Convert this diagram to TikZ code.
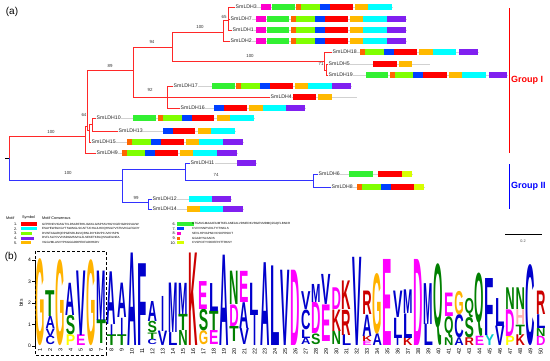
\documentclass[tikz,border=0pt]{standalone}
\usepackage{fontspec}
\setmainfont{Liberation Sans}
\usepackage{graphicx}
\definecolor{treered}{RGB}{255,40,40}
\definecolor{treeblue}{RGB}{50,50,255}
\definecolor{m1}{RGB}{255,0,0}
\definecolor{m2}{RGB}{0,255,255}
\definecolor{m3}{RGB}{128,255,0}
\definecolor{m4}{RGB}{128,32,240}
\definecolor{m5}{RGB}{255,185,0}
\definecolor{m6}{RGB}{50,240,50}
\definecolor{m7}{RGB}{0,64,255}
\definecolor{m8}{RGB}{255,0,204}
\definecolor{m9}{RGB}{255,102,0}
\definecolor{m10}{RGB}{215,255,0}
% logo letter colours
\definecolor{lcA}{RGB}{0,0,204}\colorlet{lcC}{lcA}\colorlet{lcF}{lcA}\colorlet{lcI}{lcA}
\colorlet{lcL}{lcA}\colorlet{lcV}{lcA}\colorlet{lcW}{lcA}\colorlet{lcM}{lcA}
\definecolor{lcN}{RGB}{0,128,0}\colorlet{lcQ}{lcN}\colorlet{lcS}{lcN}\colorlet{lcT}{lcN}
\definecolor{lcD}{RGB}{255,0,255}\colorlet{lcE}{lcD}
\definecolor{lcK}{RGB}{204,0,0}\colorlet{lcR}{lcK}
\definecolor{lcH}{RGB}{255,178,178}
\definecolor{lcG}{RGB}{255,179,0}
\definecolor{lcP}{RGB}{255,255,0}
\definecolor{lcY}{RGB}{0,204,204}
\def\lwI{3}
\newcommand\LogoLetter[4]{%
  \pgfmathsetmacro\lx{40+(#1-1)*10.22}%
  \pgfmathsetmacro\ly{346-#2*21.5}%
  \pgfmathsetmacro\lh{(#3-#2)*21.5}%
  \ifcsname lw#4\endcsname\edef\lw{\csname lw#4\endcsname}\else\def\lw{9.4}\fi
  \node[inner sep=0pt, anchor=south, text=lc#4] at (\lx,\ly) {\resizebox*{\lw pt}{\lh pt}{\bfseries #4}};%
}
\newcommand\Gene[6]{%
  \node[gene] (#1) at (#3,#4) {#2};
  \draw[prot] (#1.east) -- (#5,#4);
  \foreach \a/\b/\c in {#6} {\fill[\c] (\a,#4-2.6) rectangle (\b,#4+2.6);}
}
\begin{document}
\begin{tikzpicture}[x=1pt,y=-1pt,
  rl/.style={draw=treered, line width=0.8pt},
  bl/.style={draw=treeblue, line width=0.8pt},
  gene/.style={font=\fontsize{5.2}{6}\selectfont, text=black!85, inner sep=0.5pt, anchor=west},
  bs/.style={font=\fontsize{4.4}{5}\selectfont, text=black!80, inner sep=0.3pt},
  prot/.style={draw=black!18, line width=1pt},
  lg/.style={font=\fontsize{3.8}{4}\selectfont, inner sep=0pt},
  lgs/.style={font=\fontsize{3}{3.5}\selectfont, inner sep=0pt, anchor=west},
  grp/.style={font=\bfseries\fontsize{9}{10}\selectfont, inner sep=0pt, anchor=west},
  panel/.style={font=\fontsize{10}{12}\selectfont, inner sep=0pt}]
\useasboundingbox[fill=white] (0,0) rectangle (550,360);

\node[panel] (pa) at (12,12) {(a)};
\node[panel] (pb) at (11,257) {(b)};

% ---------------- genes ----------------
\Gene{SmLDH3}{SmLDH3}{235}{7}{393}{261/271/m8,272/295/m6,296/301/m9,301/320/m3,320/330/m7,330/353/m1,355/368/m5,368/392/m2}
\Gene{SmLDH7}{SmLDH7}{230}{19}{407}{256/266/m8,267/289/m6,291/296/m9,296/315/m3,315/325/m7,325/348/m1,350/363/m5,363/387/m2,387/406/m4}
\Gene{SmLDH1}{SmLDH1}{232}{30}{407}{256/266/m8,267/289/m6,291/296/m9,296/315/m3,315/325/m7,325/348/m1,350/363/m5,363/387/m2,387/406/m4}
\Gene{SmLDH2}{SmLDH2}{230}{41}{407}{256/266/m8,267/289/m6,291/296/m9,296/315/m3,315/325/m7,325/348/m1,350/363/m5,363/387/m2,387/406/m4}
\Gene{SmLDH18}{SmLDH18}{332}{52}{479}{360/365/m9,365/384/m3,384/394/m7,394/417/m1,419/433/m5,433/456/m2,459/478/m4}
\Gene{SmLDH5}{SmLDH5}{328}{64}{430}{373/397/m1,399/412/m5}
\Gene{SmLDH19}{SmLDH19}{328}{75}{508}{366/388/m6,390/395/m9,395/413/m3,413/423/m7,423/447/m1,449/462/m5,462/486/m2,489/507/m4}
\Gene{SmLDH17}{SmLDH17}{173}{86}{352}{212/235/m6,236/241/m9,241/260/m3,260/270/m7,270/293/m1,295/308/m5,308/332/m2,332/351/m4}
\Gene{SmLDH4}{SmLDH4}{270}{97}{357}{293/316/m1,318/332/m5}
\Gene{SmLDH16}{SmLDH16}{180}{108}{306}{214/224/m7,224/247/m1,249/263/m5,263/286/m2,286/305/m4}
\Gene{SmLDH10}{SmLDH10}{96}{118}{255}{133/156/m6,158/163/m9,163/182/m3,182/192/m7,192/214/m1,217/230/m5,230/254/m2}
\Gene{SmLDH13}{SmLDH13}{118}{131}{236}{163/173/m7,173/195/m1,198/211/m5,211/235/m2}
\Gene{SmLDH15}{SmLDH15}{91}{142}{244}{127/132/m9,132/151/m3,151/161/m7,161/184/m1,186/199/m5,199/223/m2,223/243/m4}
\Gene{SmLDH9}{SmLDH9}{96}{153}{238}{122/127/m9,127/145/m3,145/155/m7,155/178/m1,180/193/m5,193/217/m2,217/237/m4}
\Gene{SmLDH11}{SmLDH11}{190}{163}{257}{237/256/m4}
\Gene{SmLDH6}{SmLDH6}{318}{174}{413}{349/373/m6,378/402/m1,402/412/m10}
\Gene{SmLDH8}{SmLDH8}{331}{187}{425}{357/362/m9,362/381/m3,381/391/m7,391/414/m1,414/424/m10}
\Gene{SmLDH12}{SmLDH12}{152}{199}{232}{189/212/m2,212/231/m4}
\Gene{SmLDH14}{SmLDH14}{152}{209}{244}{187/200/m5,200/223/m2,223/243/m4}

% ---------------- tree ----------------
\coordinate (r) at (9,158);
\draw[line width=0.8pt] (5,158) -- (r);
\coordinate (nA) at (85,136);
\draw[rl] (r) |- (nA);
\draw[rl] (nA) |- (SmLDH9.west);
\coordinate (nB) at (87,126);
\draw[rl] (nA) |- (nB);
\coordinate (nC) at (133,70);
\draw[rl] (nB) |- (nC);
\coordinate (nK) at (89,130);
\draw[rl] (nB) |- (nK);
\draw[rl] (nK) |- (SmLDH15.west);
\coordinate (nL) at (92,124);
\draw[rl] (nK) |- (nL);
\draw[rl] (nL) |- (SmLDH10.west);
\draw[rl] (nL) |- (SmLDH13.west);
\coordinate (nD) at (172,47);
\draw[rl] (nC) |- (nD);
\coordinate (nI) at (167,97);
\draw[rl] (nC) |- (nI);
\draw[rl] (nI) |- (SmLDH17.west);
\draw[rl] (nI) -- (SmLDH4.west);
\draw[rl] (nI) |- (SmLDH16.west);
\coordinate (nE) at (223,32);
\draw[rl] (nD) |- (nE);
\coordinate (nG) at (324,61);
\draw[rl] (nD) |- (nG);
\coordinate (nF) at (228,20);
\draw[rl] (nE) |- (nF);
\draw[rl] (nE) |- (SmLDH2.west);
\draw[rl] (nF) |- (SmLDH3.west);
\draw[rl] (nF) |- (SmLDH7.west);
\draw[rl] (nF) |- (SmLDH1.west);
\draw[rl] (nG) |- (SmLDH18.west);
\coordinate (nH) at (326,70);
\draw[rl] (nG) |- (nH);
\draw[rl] (nH) |- (SmLDH5.west);
\draw[rl] (nH) |- (SmLDH19.west);
% blue
\coordinate (nM) at (122,180);
\draw[bl] (r) |- (nM);
\coordinate (nN) at (185,169);
\draw[bl] (nM) |- (nN);
\coordinate (nP) at (148,202);
\draw[bl] (nM) |- (nP);
\draw[bl] (nN) |- (SmLDH11.west);
\coordinate (nO) at (313,180);
\draw[bl] (nN) |- (nO);
\draw[bl] (nO) |- (SmLDH6.west);
\draw[bl] (nO) |- (SmLDH8.west);
\draw[bl] (nP) |- (SmLDH12.west);
\draw[bl] (nP) |- (SmLDH14.west);

% bootstrap values
\node[bs] (b1) at (51,132) {100};
\node[bs] (b2) at (110,66) {89};
\node[bs] (b3) at (152,42) {94};
\node[bs] (b4) at (150,90) {92};
\node[bs] (b5) at (200,27) {100};
\node[bs] (b6) at (250,56) {100};
\node[bs] (b7) at (224,17) {65};
\node[bs] (b8) at (321,64) {71};
\node[bs] (b9) at (84,115) {64};
\node[bs] (b10) at (68,173) {100};
\node[bs] (b11) at (216,175) {74};
\node[bs] (b12) at (136,198) {99};

% groups
\draw[red, line width=1pt] (509,8) -- (509,153);
\node[grp, text=red] (g1) at (511,80) {Group I};
\draw[blue, line width=1pt] (509,164) -- (509,209);
\node[grp, text=blue] (g2) at (511,186) {Group II};

% scale bar
\draw[line width=0.7pt] (505,234) -- (542,234);
\node[lg, text=black!70] (sc) at (523,241) {0.2};

% ---------------- legend ----------------
\node[lg, anchor=west] (h1) at (6,218) {Motif};
\node[lg, anchor=west] (h2) at (22,218) {Symbol};
\node[lg, anchor=west] (h3) at (42,218) {Motif Consensus};
\foreach \n/\y/\c/\w/\s in {
 1/224/m1/16/GFPRNRVIGSGTVLDSARFRHLIGKKLGISPSSVHGYIGEHGDSSVAVW,
 2/228.7/m2/16/ESAYEWRLKGYTSWAIGLSCAFTJCHAJLHDQHSILPVSTNVKGLFGIDY,
 3/233.4/m3/11/DVWTAGARQRPGESRLBLVQRNLDIYKDVPCJVKHSPN,
 4/238.1/m4/13/DVFLSLPCVVNSDGMSIVNLZLSEKETKRLQSSAEILNEA,
 5/242.8/m5/10/VGGVMLASVYPKGGGDDPEKFADIHKDV}{
  \node[lg, anchor=east] at (17.5,\y) {\n.};
  \fill[\c] (21,\y-1.6) rectangle (21+\w,\y+1.6);
  \node[lgs] at (42,\y) {\s};
}
\foreach \n/\y/\c/\w/\s in {
 6/224/m6/17/GTGAVGMAAAFAIMTKELANEJALVDMEDKVRGEVMDMQZGQFLBNCR,
 7/228.7/m7/7/CVIVVSNPVDILTYITWKLS,
 8/233.4/m8/4/SEVLHPVAPNCVCSKPRSKIT,
 9/238.1/m9/3/GGADYSLSADS,
 10/242.8/m10/7/CVSPCIFYVDDEFHITTRKSY}{
  \node[lg, anchor=east] at (176,\y) {\n.};
  \fill[\c] (177,\y-1.6) rectangle (177+\w,\y+1.6);
  \node[lgs] at (192,\y) {\s};
}

% ---------------- logo ----------------
\draw[line width=0.6pt] (35,346) -- (35,260);
\foreach \k in {0,1,2,3,4}{
  \draw[line width=0.6pt] (32,346-21.5*\k) -- (35,346-21.5*\k);
  \node[font=\fontsize{5}{6}\selectfont, inner sep=0pt, anchor=east] at (31,346-21.5*\k) {\k};
}
\node[font=\fontsize{5}{6}\selectfont, rotate=90, inner sep=0pt] (bits) at (21,303) {bits};
\foreach \n in {1,...,50}{
  \node[font=\fontsize{5.5}{6}\selectfont, rotate=90, anchor=east, inner sep=0pt] at (40+10.22*\n-10.22,348) {\n};
}
\foreach \c/\b/\t/\l in {
 1/0/4.05/G,
 2/0.05/0.45/C, 2/0.45/0.8/V, 2/0.8/1.36/A, 2/1.36/2.56/T,
 3/0/4.0/G,
 4/0/0.5/P, 4/0.5/1.4/S, 4/1.4/2.9/A,
 5/0/0.5/E, 5/0.5/3.5/V,
 6/0/4.0/G,
 7/0.1/1.2/T, 7/1.2/3.5/M,
 8/0/0.5/T, 8/0.5/1.0/I, 8/1.0/3.45/A,
 9/0/0.5/T, 9/0.5/1.3/I, 9/1.3/2.9/A,
 10/0/4.3/A,
 11/0/3.8/F,
 12/0.05/0.3/C, 12/0.3/0.6/T, 12/0.6/1.13/S, 12/1.13/2.06/A,
 13/0/0.67/V, 13/0.67/2.3/I,
 14/0/0.6/L, 14/0.6/2.9/M,
 15/0/0.7/N, 15/0.7/1.45/T, 15/1.45/2.9/M,
 16/0/4.3/K,
 17/0.05/0.7/G, 17/0.7/1.7/S, 17/1.7/3.0/E,
 18/0.05/0.7/E, 18/0.7/1.6/T, 18/1.6/2.9/L,
 19/0/4.2/A,
 20/0.2/0.9/T, 20/0.9/1.9/D, 20/1.9/3.45/N,
 21/0.05/0.8/V, 21/0.8/2.0/A, 21/2.0/3.45/E,
 22/0/1.4/I, 22/1.4/2.9/L,
 23/0/3.85/A,
 24/0/3.7/L,
 25/0/3.5/V,
 26/0/3.5/D,
 27/0.05/0.36/A, 27/0.36/0.75/L, 27/0.75/1.67/C, 27/1.67/2.5/V,
 28/0.05/0.55/S, 28/0.55/2.0/D, 28/2.0/2.84/M,
 29/0.2/1.9/E, 29/1.9/3.3/V,
 30/0.05/0.67/N, 30/0.67/1.67/K, 30/1.67/2.68/D,
 31/0/0.5/L, 31/0.5/1.67/R, 31/1.67/3.0/K,
 32/0/4.1/V,
 33/0/0.2/E, 33/0.2/0.45/K, 33/0.45/1.44/A, 33/1.44/2.53/R,
 34/0/0.55/A, 34/0.55/3.38/G,
 35/0/4.0/E,
 36/0/0.36/I, 36/0.36/1.3/L, 36/1.3/2.53/V,
 37/0/0.36/K, 37/0.36/1.5/L, 37/1.5/2.6/M,
 38/0/4.0/D,
 39/0/1.0/L, 39/1.0/2.9/M,
 40/0/3.8/Q,
 41/0/0.36/N, 41/0.36/1.36/Q, 41/1.36/2.45/E,
 42/0/0.36/A, 42/0.36/1.44/C, 42/1.44/2.53/G,
 43/0/0.36/R, 43/0.36/1.3/S, 43/1.3/2.2/Q,
 44/0/0.43/E, 44/0.43/3.38/Q,
 45/0/0.5/Y, 45/0.5/3.15/F,
 46/0/0.9/V, 46/0.9/2.2/L,
 47/0/0.43/P, 47/0.43/1.67/D, 47/1.67/2.68/N,
 48/0/0.5/K, 48/0.5/0.98/T, 48/0.98/1.67/H, 48/1.67/2.68/N,
 49/0/3.77/C,
 50/0/0.43/D, 50/0.43/0.8/N, 50/0.8/1.44/L, 50/1.44/2.53/R}{
  \edef\tmp{\noexpand\LogoLetter{\c}{\b}{\t}{\l}}\tmp
}
\draw[line width=0.8pt, dash pattern=on 3pt off 2pt] (35,251) rectangle (106,355);
\end{tikzpicture}
\end{document}
